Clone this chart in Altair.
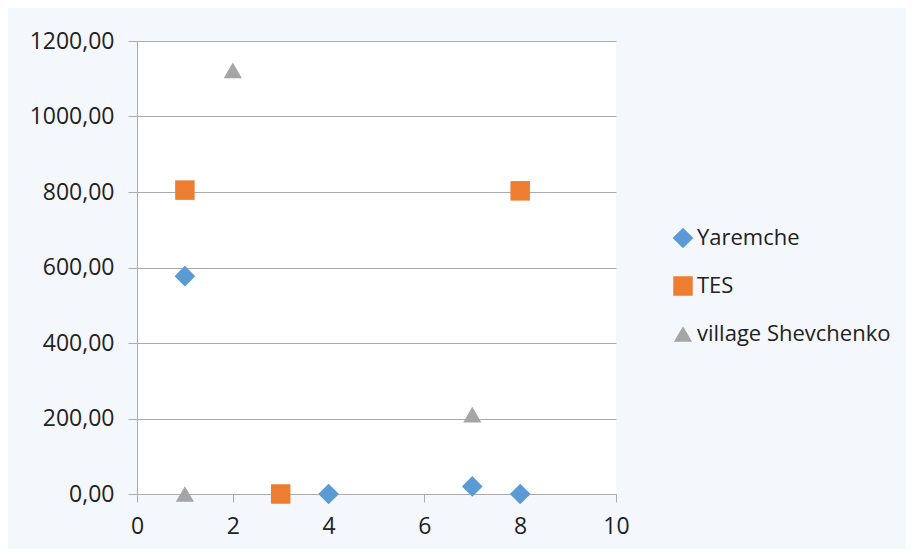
import altair as alt
import pandas as pd

series_names = ["Yaremche", "TES", "village Shevchenko"]
yaremche_x = [1, 4, 7, 8]
yaremche_y = [577, 0, 20, 0]
tes_x = [1, 3, 8]
tes_y = [805, 0, 803]
shev_x = [1, 2, 7]
shev_y = [0, 1122, 210]

colors = ["#5B9BD5", "#ED7D31", "#A5A5A5"]
shapes = ["diamond", "square", "triangle-up"]
marker_sizes = [430, 330, 430]
x_ticks = [0, 2, 4, 6, 8, 10]
y_ticks = [0, 200, 400, 600, 800, 1000, 1200]

rows = []
for name, xs, ys in zip(series_names, [yaremche_x, tes_x, shev_x], [yaremche_y, tes_y, shev_y]):
    for xv, yv in zip(xs, ys):
        rows.append({"series": name, "x": xv, "y": yv})
df = pd.DataFrame(rows)

FONT = "Open Sans"
GRID = "#ABABAB"

chart = alt.Chart(df).mark_point(filled=True, opacity=1).encode(
    x=alt.X("x:Q", scale=alt.Scale(domain=[0, 10], nice=False),
            axis=alt.Axis(values=x_ticks, title=None, grid=False, domainColor=GRID,
                          tickColor=GRID, tickSize=8, labelPadding=13, labelFlush=False,
                          labelFontSize=23, labelFont=FONT, labelColor="#222222",
                          format="d")),
    y=alt.Y("y:Q", scale=alt.Scale(domain=[0, 1200], nice=False),
            axis=alt.Axis(values=y_ticks, title=None, grid=True, gridColor=GRID,
                          domainColor=GRID, tickColor=GRID, tickSize=9, labelPadding=14,
                          labelFlush=False,
                          labelFontSize=23, labelFont=FONT, labelColor="#222222",
                          labelExpr="replace(format(datum.value, '.2f'), '.', ',')")),
    color=alt.Color("series:N", scale=alt.Scale(domain=series_names, range=colors),
                    legend=alt.Legend(title=None, orient="none", legendX=535, legendY=186,
                                      labelFontSize=22, labelFont=FONT, labelColor="#222222",
                                      labelLimit=400,
                                      symbolSize=260, rowPadding=26, labelOffset=3,
                                      padding=0, symbolStrokeWidth=0)),
    shape=alt.Shape("series:N", scale=alt.Scale(domain=series_names, range=shapes)),
    size=alt.Size("series:N", scale=alt.Scale(domain=series_names, range=marker_sizes),
                  legend=None),
).properties(
    width=479,
    height=453,
    autosize=alt.AutoSizeParams(type="none"),
    padding={"left": 129, "top": 33, "right": 290, "bottom": 55},
    background="#F4F8FC",
).configure_view(fill="white", stroke=None)

chart.save("out.html", embed_options={"renderer": "svg", "actions": False})
